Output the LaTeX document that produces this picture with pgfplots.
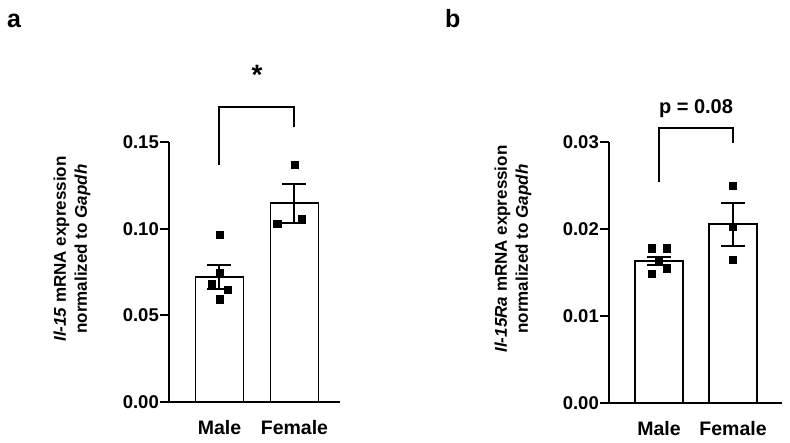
\documentclass[border=0pt]{standalone}
\usepackage{pgfplots}
\pgfplotsset{compat=1.18}
\usepackage{fontspec}
\setmainfont{Liberation Sans}

\pgfplotsset{
  panel/.style={
    scale only axis, anchor=south west,
    axis x line*=bottom, axis y line*=left,
    axis line style={line width=2pt, -},
    xtick={0,1}, xticklabels={Male,Female},
    tick align=outside, major tick length=9pt,
    tick style={line width=2pt, black},
    x tick style={draw=none},
    scaled y ticks=false,
    yticklabel style={font=\bfseries\fontsize{18.5}{20}\selectfont, inner sep=1pt},
    xticklabel style={font=\bfseries\fontsize{19.5}{22}\selectfont, yshift=-6pt},
    /pgf/number format/fixed,
    /pgf/number format/fixed zerofill,
    /pgf/number format/precision=2,
    /pgf/number format/assume math mode=true,
    clip=false,
  },
  barst/.style={ybar, bar width=48pt, fill=white, draw=black, line width=1.8pt},
  errst/.style={draw=none, mark=none, forget plot,
    error bars/.cd, y dir=both, y explicit,
    error bar style={line width=2pt, black},
    error mark options={rotate=90, mark size=12pt, line width=2pt, black}},
  ptst/.style={only marks, mark=square*, mark size=3.6pt, black, mark options={fill=black, draw=black}},
}

\begin{document}
\begin{tikzpicture}[x=1pt,y=1pt]
\path (0,0) rectangle (790,442);

\node[anchor=base west, font=\bfseries\fontsize{25}{28}\selectfont, inner sep=0] at (7,414) {a};
\node[anchor=base west, font=\bfseries\fontsize{25}{28}\selectfont, inner sep=0] at (445,414) {b};

\node[rotate=90, align=center, font=\bfseries\fontsize{17}{21}\selectfont] at (72,193)
  {\textit{Il-15} mRNA expression\\normalized to \textit{Gapdh}};
\node[rotate=90, align=center, font=\bfseries\fontsize{17}{21}\selectfont] at (513,193)
  {\textit{Il-15Ra} mRNA expression\\normalized to \textit{Gapdh}};

% Panel a
\begin{axis}[panel, at={(169pt,40pt)}, width=171pt, height=259.5pt,
  xmin=-0.673, xmax=1.607, ymin=0, ymax=0.15,
  ytick={0,0.05,0.10,0.15}]
  \addplot[barst] coordinates {(0,0.0724) (1,0.1148)};
  \addplot[errst] coordinates {(0,0.0724) +- (0,0.0069) (1,0.1148) +- (0,0.0114)};
  \addplot[ptst] coordinates {(0,0.0967) (0,0.0744) (-0.107,0.0682) (0.107,0.0651) (0,0.0594)
                              (1,0.1370) (1.10,0.1058) (0.77,0.1029)};
  \draw[line width=2pt] (axis cs:0,0.137) -- (axis cs:0,0.1703) -- (axis cs:1,0.1703) -- (axis cs:1,0.159);
  \node[anchor=north, inner sep=0, font=\bfseries\fontsize{28}{30}\selectfont] at (axis cs:0.5,0.1950) {*};
\end{axis}

% Panel b
\begin{axis}[panel, at={(609pt,39.3pt)}, width=172.7pt, height=261pt,
  xmin=-0.676, xmax=1.658, ymin=0, ymax=0.03,
  ytick={0,0.01,0.02,0.03}]
  \addplot[barst] coordinates {(0,0.0163) (1,0.0205)};
  \addplot[errst] coordinates {(0,0.0163) +- (0,0.0005) (1,0.0205) +- (0,0.00245)};
  \addplot[ptst] coordinates {(-0.1,0.01775) (0.1,0.01775) (0,0.01625) (-0.1,0.0148) (0.1,0.0154)
                              (1,0.0249) (1,0.0202) (1,0.0164)};
  \draw[line width=2pt] (axis cs:0,0.0254) -- (axis cs:0,0.03154) -- (axis cs:1,0.03154) -- (axis cs:1,0.02989);
  \node[anchor=base, inner sep=0, font=\bfseries\fontsize{20}{22}\selectfont] at (axis cs:0.5,0.03326) {p = 0.08};
\end{axis}
\end{tikzpicture}
\end{document}
